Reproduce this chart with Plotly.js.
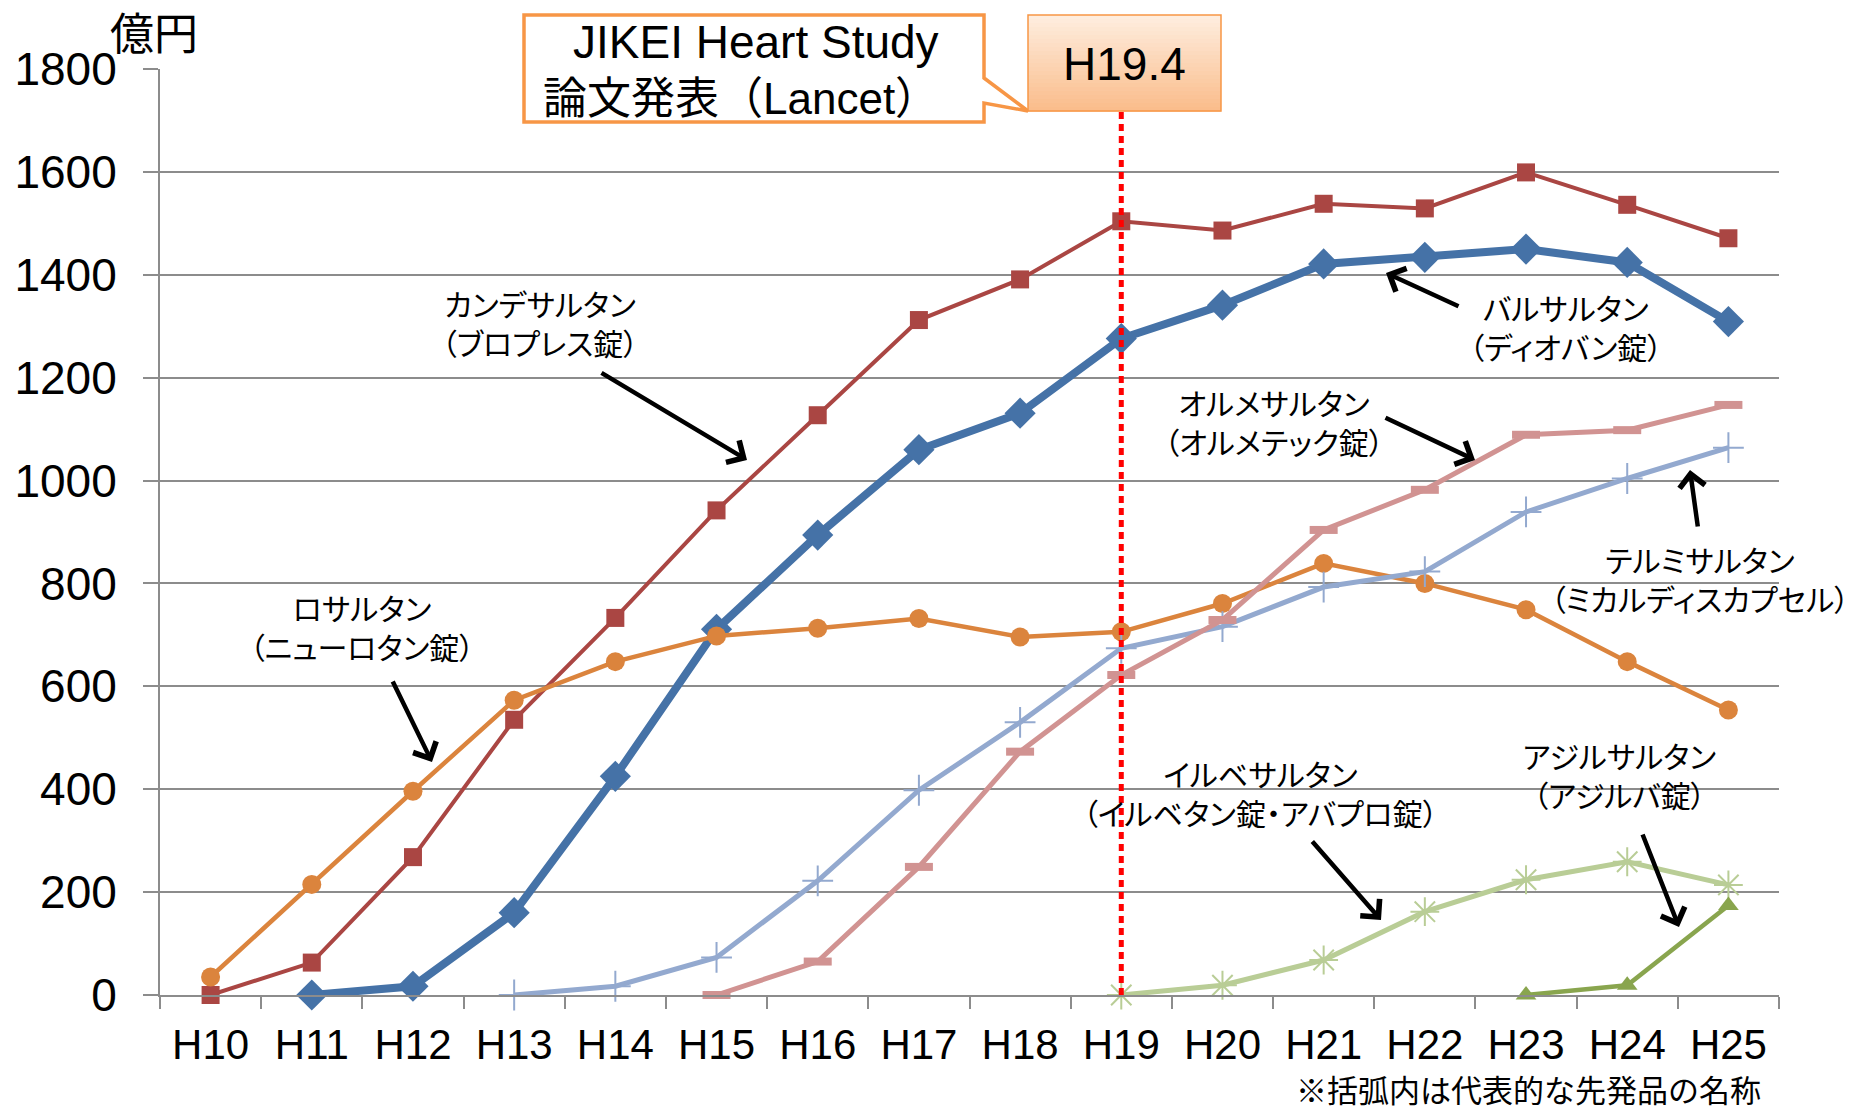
<!DOCTYPE html>
<html>
<head>
<meta charset="utf-8">
<script src="https://cdn.plot.ly/plotly-3.0.1.min.js"></script>
<style>
  html, body { margin: 0; padding: 0; background: #fff; }
  #chart { width: 1854px; height: 1110px; }
  .main-svg g.annotation text { font-feature-settings: "palt" 1; }
</style>
</head>
<body>
<div id="chart"></div>
<script>
// ---------- data ----------
const years = ['H10','H11','H12','H13','H14','H15','H16','H17','H18','H19','H20','H21','H22','H23','H24','H25'];
const candesartan = [0, 63, 268, 535, 733, 942, 1127, 1312, 1391, 1504, 1486, 1538, 1529, 1599, 1536, 1471];
const valsartan   = [null, 0, 17, 160, 425, 711, 894, 1060, 1131, 1276, 1341, 1421, 1434, 1450, 1424, 1309];
const losartan    = [35, 215, 396, 573, 648, 698, 713, 732, 696, 706, 761, 839, 800, 749, 648, 554];
const telmisartan = [null, null, null, 0, 17, 73, 222, 398, 530, 674, 716, 793, 823, 939, 1004, 1064];
const olmesartan  = [null, null, null, null, null, 0, 65, 249, 473, 622, 729, 904, 982, 1089, 1098, 1147];
const irbesartan  = [null, null, null, null, null, null, null, null, null, 0, 19, 68, 162, 224, 259, 214];
const azilsartan  = [null, null, null, null, null, null, null, null, null, null, null, null, null, 0, 19, 174];
const markCategory = 'H19';
const unitLabel = '億円';
const calloutLine1 = 'JIKEI Heart Study';
const calloutLine2 = '論文発表（Lancet）';
const markLabel = 'H19.4';
const footnote = '※括弧内は代表的な先発品の名称';
const labels = {
  candesartan: 'カンデサルタン<br>（ブロプレス錠）',
  valsartan: 'バルサルタン<br>（ディオバン錠）',
  olmesartan: 'オルメサルタン<br>（オルメテック錠）',
  telmisartan: 'テルミサルタン<br>（ミカルディスカプセル）',
  losartan: 'ロサルタン<br>（ニューロタン錠）',
  irbesartan: 'イルベサルタン<br>（イルベタン錠・アバプロ錠）',
  azilsartan: 'アジルサルタン<br>（アジルバ錠）'
};

// ---------- layout geometry ----------
const W = 1854, H = 1110;
const M = {l: 160, r: 75, t: 69, b: 115};
const PW = W - M.l - M.r, PH = H - M.t - M.b;
const X = px => (px - M.l) / PW;
const Y = py => (H - M.b - py) / PH;

const LAT = "Liberation Sans, Arial, Noto Sans CJK JP, sans-serif";
const JP = "Noto Sans CJK JP, sans-serif";
const GRID = '#8c8c8c';

const C = {
  cand: '#AA4643', vals: '#4572A7', los: '#DB843D', telm: '#93A9CF',
  olm: '#D19392', irb: '#B9CD96', azil: '#89A54E'
};

function tr(y, color, width, marker) {
  return {x: years, y: y, type: 'scatter', mode: 'lines+markers', cliponaxis: false,
    line: {color: color, width: width}, marker: marker, hoverinfo: 'x+y'};
}

const traces = [
  tr(candesartan, C.cand, 4, {symbol: 'square', size: 18, color: C.cand}),
  tr(valsartan, C.vals, 8, {symbol: 'diamond', size: 24, color: C.vals}),
  tr(losartan, C.los, 4.5, {symbol: 'circle', size: 19, color: C.los}),
  tr(telmisartan, C.telm, 5, {symbol: 'cross-thin-open', size: 22, color: C.telm, line: {width: 2, color: C.telm}}),
  tr(olmesartan, C.olm, 5, {symbol: 'line-ew-open', size: 20, color: C.olm, line: {width: 8, color: C.olm}}),
  tr(irbesartan, C.irb, 5, {symbol: 'asterisk-open', size: 24, color: C.irb, line: {width: 2, color: C.irb}}),
  tr(azilsartan, C.azil, 4.5, {symbol: 'triangle-up', size: 18, color: C.azil})
];

// ---------- shapes ----------
const shapes = [];
// red dotted marker line
shapes.push({type: 'line', xref: 'x', yref: 'paper', x0: markCategory, x1: markCategory,
  y0: 0, y1: Y(111), layer: 'above', line: {color: '#FF0000', width: 5, dash: '7px,5px'}});

// callout bubble (JIKEI)
const cp = [[524,15],[984,15],[984,78],[1028,111],[984,103],[984,122],[524,122]];
shapes.push({type: 'path', xref: 'paper', yref: 'paper', layer: 'above',
  path: 'M' + cp.map(p => X(p[0]).toFixed(5) + ',' + Y(p[1]).toFixed(5)).join(' L') + ' Z',
  fillcolor: '#FFFFFF', line: {color: '#F79646', width: 3.5}});

// H19.4 box with vertical gradient
const bx0 = 1028, bx1 = 1221, by0 = 15, by1 = 111, NSTRIP = 24;
const gradTop = [254, 238, 224], gradBot = [250, 188, 138];
for (let i = 0; i < NSTRIP; i++) {
  const t = (i + 0.5) / NSTRIP;
  const c = gradTop.map((v, k) => Math.round(v + (gradBot[k] - v) * t));
  shapes.push({type: 'rect', xref: 'paper', yref: 'paper', layer: 'above',
    x0: X(bx0), x1: X(bx1), y0: Y(by0 + (by1 - by0) * i / NSTRIP), y1: Y(by0 + (by1 - by0) * (i + 1) / NSTRIP) - 0.0005,
    fillcolor: 'rgb(' + c.join(',') + ')', line: {width: 0}});
}
shapes.push({type: 'rect', xref: 'paper', yref: 'paper', layer: 'above',
  x0: X(bx0), x1: X(bx1), y0: Y(by0), y1: Y(by1), fillcolor: 'rgba(0,0,0,0)',
  line: {color: '#F79646', width: 1.5}});

// ---------- annotations ----------
const ann = [];
const noPalt = [];
function txt(text, cx, cy, size, family, xanchor, palt) {
  if (palt === false) noPalt.push(ann.length);
  ann.push({xref: 'paper', yref: 'paper', x: X(cx), y: Y(cy), text: text, showarrow: false,
    xanchor: xanchor || 'center', yanchor: 'middle', align: xanchor === 'left' ? 'left' : (xanchor === 'right' ? 'right' : 'center'),
    font: {family: family, size: size, color: '#000'}});
}
function arrow(tx, ty, hx, hy) {
  ann.push({xref: 'paper', yref: 'paper', x: X(hx), y: Y(hy), ax: tx - hx, ay: ty - hy,
    text: '', showarrow: true, arrowhead: 4, arrowsize: 1.1, arrowwidth: 4.5, arrowcolor: '#000'});
}

txt(unitLabel, 154, 31, 44, JP);
txt(calloutLine1, 756, 42, 46, LAT);
txt(calloutLine2, 541, 99, 44, LAT, 'left', false);
txt(markLabel, 1124, 64, 46, LAT);

txt(labels.candesartan, 540, 323, 30, JP);
arrow(600, 372, 747, 460);
txt(labels.valsartan, 1565, 326, 30, JP);
arrow(1460, 307, 1386, 273);
txt(labels.olmesartan, 1274, 421, 30, JP);
arrow(1384, 417, 1475, 460);
txt(labels.telmisartan, 1700, 578, 30, JP);
arrow(1698, 528, 1690, 470);
txt(labels.losartan, 362, 626, 30, JP);
arrow(392, 680, 432, 762);
txt(labels.irbesartan, 1260, 792, 30, JP);
arrow(1311, 840, 1381, 920);
txt(labels.azilsartan, 1619, 774, 30, JP);
arrow(1642, 833, 1679, 927);

txt(footnote, 1763, 1088, 31, JP, 'right', false);

// disable proportional CJK spacing on the texts drawn with full-width spacing
const st = document.createElement('style');
st.textContent = noPalt.map(i => '.main-svg g.annotation[data-index="' + i + '"] text').join(',') +
  ' { font-feature-settings: normal; }';
document.head.appendChild(st);

const layout = {
  width: W, height: H,
  margin: M,
  paper_bgcolor: '#ffffff', plot_bgcolor: '#ffffff',
  showlegend: false,
  font: {family: LAT, color: '#000'},
  xaxis: {
    type: 'category', range: [-0.5, 15.5], fixedrange: true,
    showgrid: false, zeroline: false,
    showline: true, linecolor: GRID, linewidth: 2,
    ticks: 'outside', tickson: 'boundaries', ticklen: 12, tickwidth: 2, tickcolor: GRID,
    tickfont: {family: LAT, size: 42, color: '#000'}, ticklabelstandoff: 12
  },
  yaxis: {
    range: [0, 1800], dtick: 200, tick0: 0, fixedrange: true,
    showgrid: true, gridcolor: GRID, gridwidth: 2, zeroline: false,
    showline: true, linecolor: GRID, linewidth: 2,
    ticks: 'outside', ticklen: 15, tickwidth: 2, tickcolor: GRID,
    tickfont: {family: LAT, size: 46, color: '#000'}, ticklabelstandoff: 17
  },
  shapes: shapes,
  annotations: ann
};

Plotly.newPlot('chart', traces, layout, {displayModeBar: false, responsive: false});
</script>
</body>
</html>
